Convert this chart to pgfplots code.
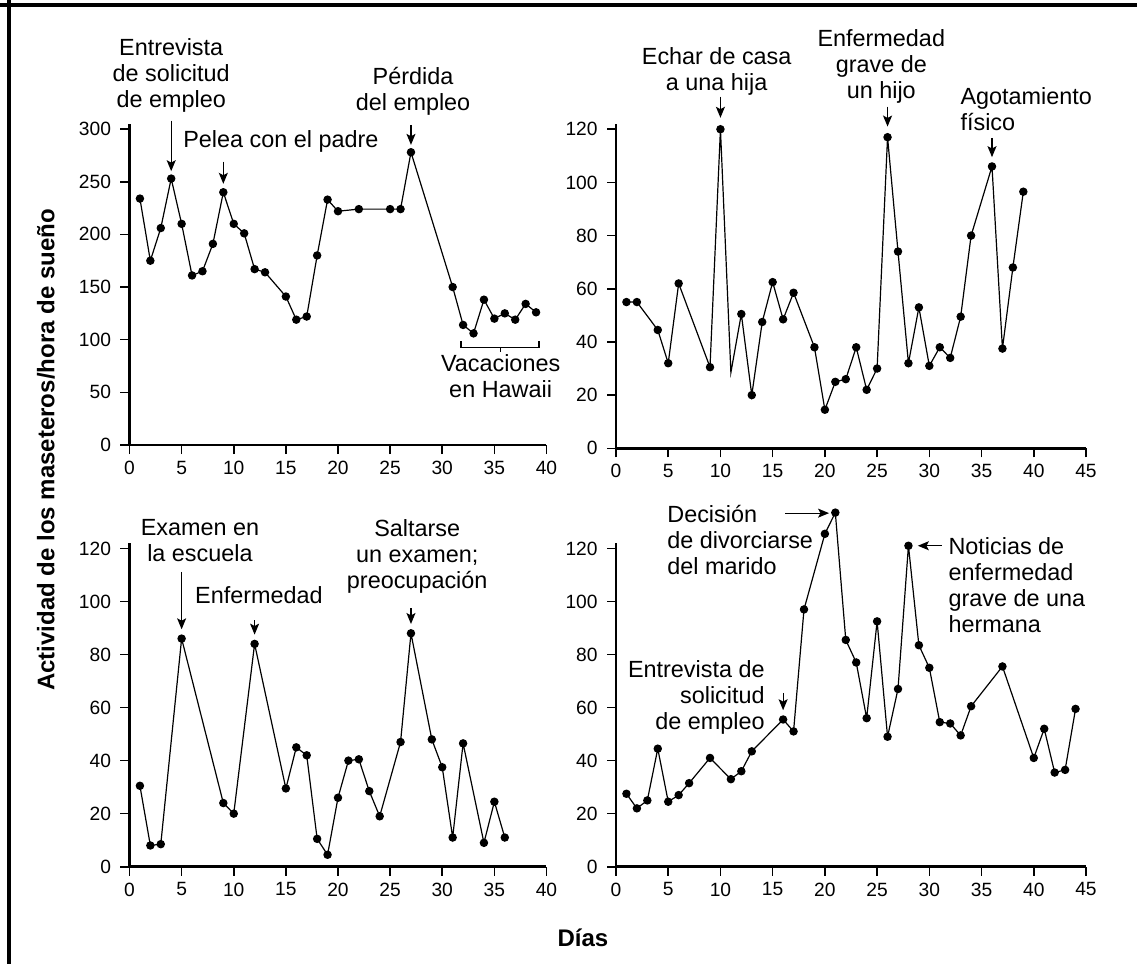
\documentclass[border=0pt]{standalone}
\usepackage{pgfplots}
\pgfplotsset{compat=1.18}
\usepackage{fontspec}
\setmainfont{Liberation Sans}
\usetikzlibrary{arrows.meta}

\pgfplotsset{
  panel/.style={
    scale only axis, anchor=south west, clip=false,
    axis lines=left,
    axis line style={-, line width=1.4pt},
    tick align=outside, major tick length=4.5pt,
    every tick/.style={black, line width=0.8pt},
    tick label style={font=\fontsize{9.6}{11}\selectfont},
    yticklabel style={xshift=-1.2pt},
    /pgf/number format/assume math mode=true,
    ymin=0, xmin=0,
  },
  ser/.style={black, line width=0.6pt, mark=*, mark size=1.8pt, mark options={solid, fill=black}},
}
\tikzset{
  ann/.style={font=\fontsize{11.7}{13}\selectfont, inner sep=0pt},
  arr/.style={-{Stealth[length=5.5pt,width=4.5pt,inset=1.2pt]}, line width=0.6pt},
}

\begin{document}
\begin{tikzpicture}
\path[use as bounding box] (0,0) rectangle (568.5pt,-482pt);
\draw[line width=1.8pt] (0,-2.5pt) -- (568.5pt,-2.5pt);
\draw[line width=1.8pt] (4.5pt,0) -- (4.5pt,-482pt);

% ---------- top left
\begin{axis}[panel, at={(64.75pt,-222.5pt)}, width=208.5pt, height=160.6pt,
  xmax=40, ymax=305, xtick={0,5,...,40}, ytick={0,50,...,300}]
\addplot[ser] coordinates {(1,234)(2,175)(3,206)(4,253)(5,210)(6,161)(7,165)(8,191)(9,240)(10,210)(11,201)(12,167)(13,164)(15,141)(16,119)(17,122)(18,180)(19,233)(20,222)(22,224)(25,224)(26,224)(27,278)(31,150)(32,114)(33,106)(34,138)(35,120)(36,125)(37,119)(38,134)(39,126)};
\node[ann, align=center] at (axis cs:4,351) {Entrevista\\de solicitud\\de empleo};
\draw[arr] (axis cs:4,308) -- (axis cs:4,260);
\node[ann, anchor=west] at (axis cs:5.13,288) {Pelea con el padre};
\draw[arr] (axis cs:9,269) -- (axis cs:9,248);
\node[ann, align=center] at (axis cs:27.2,335.6) {Pérdida\\del empleo};
\draw[arr] (axis cs:27,304) -- (axis cs:27,285);
\draw[line width=0.8pt] (axis cs:31.8,98.3) -- (axis cs:31.8,92.5) -- (axis cs:39.3,92.5) -- (axis cs:39.3,98.3);
\draw[line width=0.8pt] (axis cs:35.6,92.5) -- (axis cs:35.6,88);
\node[ann, align=center] at (axis cs:35.6,65) {Vacaciones\\en Hawaii};
\end{axis}

% ---------- top right
\begin{axis}[panel, at={(308pt,-224.15pt)}, width=235pt, height=162.2pt,
  xmax=45, ymax=122, xtick={0,5,...,45}, ytick={0,20,...,120}]
\addplot[black, line width=0.6pt, mark=none] coordinates {(1,55)(2,55)(4,44.5)(5,32)(6,62)(9,30.5)(10,120)(11,28.5)(12,50.5)(13,20)(14,47.5)(15,62.5)(16,48.5)(17,58.5)(19,38)(20,14.5)(21,25)(22,26)(23,38)(24,22)(25,30)(26,117)(27,74)(28,32)(29,53)(30,31)(31,38)(32,34)(33,49.5)(34,80)(36,106)(37,37.5)(38,68)(39,96.5)};
\addplot[ser, only marks] coordinates {(1,55)(2,55)(4,44.5)(5,32)(6,62)(9,30.5)(10,120)(12,50.5)(13,20)(14,47.5)(15,62.5)(16,48.5)(17,58.5)(19,38)(20,14.5)(21,25)(22,26)(23,38)(24,22)(25,30)(26,117)(27,74)(28,32)(29,53)(30,31)(31,38)(32,34)(33,49.5)(34,80)(36,106)(37,37.5)(38,68)(39,96.5)};
\node[ann, align=center] at (axis cs:9.64,141.8) {Echar de casa\\a una hija};
\draw[arr] (axis cs:10,132.3) -- (axis cs:10,124.3);
\node[ann, align=center] at (axis cs:25.4,143.5) {Enfermedad\\grave de\\un hijo};
\draw[arr] (axis cs:26,128.5) -- (axis cs:26,121);
\node[ann, anchor=west, align=left] at (axis cs:32.95,127.5) {Agotamiento\\físico};
\draw[arr] (axis cs:36,116.7) -- (axis cs:36,109.5);
\end{axis}

% ---------- bottom left
\begin{axis}[panel, at={(64.75pt,-433.35pt)}, width=208.5pt, height=161.8pt,
  xmax=40, ymax=122, xtick={0,5,...,40}, ytick={0,20,...,120}]
\addplot[ser] coordinates {(1,30.5)(2,8)(3,8.5)(5,86)(9,24)(10,20)(12,84)(15,29.5)(16,45)(17,42)(18,10.5)(19,4.5)(20,26)(21,40)(22,40.5)(23,28.5)(24,19)(26,47)(27,88)(29,48)(30,37.5)(31,11)(32,46.5)(34,9)(35,24.5)(36,11)};
\node[ann, align=center] at (axis cs:6.76,123) {Examen en\\la escuela};
\draw[arr] (axis cs:5,111.2) -- (axis cs:5,89.5);
\node[ann] at (axis cs:12.42,102.4) {Enfermedad};
\draw[arr] (axis cs:12,93) -- (axis cs:12,87.5);
\node[ann, align=center] at (axis cs:27.6,117.1) {Saltarse\\un examen;\\preocupación};
\draw[arr] (axis cs:27,97.4) -- (axis cs:27,91.5);
\end{axis}

% ---------- bottom right
\begin{axis}[panel, at={(308pt,-433.35pt)}, width=235pt, height=161.8pt,
  xmax=45, ymax=122, xtick={0,5,...,45}, ytick={0,20,...,120}]
\addplot[ser] coordinates {(1,27.5)(2,22)(3,25)(4,44.5)(5,24.5)(6,27)(7,31.5)(9,41)(11,33)(12,36)(13,43.5)(16,55.5)(17,51)(18,97)(20,125.5)(21,133.5)(22,85.5)(23,77)(24,56)(25,92.5)(26,49)(27,67)(28,121)(29,83.5)(30,75)(31,54.5)(32,54)(33,49.5)(34,60.5)(37,75.5)(40,41)(41,52)(42,35.5)(43,36.5)(44,59.5)};
\node[ann, anchor=west, align=left] at (axis cs:4.88,123.1) {Decisión\\de divorciarse\\del marido};
\draw[arr] (axis cs:16.2,133.3) -- (axis cs:20.4,133.3);
\node[ann, anchor=east, align=right] at (axis cs:14.27,64) {Entrevista de\\solicitud\\de empleo};
\draw[arr] (axis cs:16,65.5) -- (axis cs:16,59);
\node[ann, anchor=west, align=left] at (axis cs:31.8,106) {Noticias de\\enfermedad\\grave de una\\hermana};
\draw[arr] (axis cs:31.2,121) -- (axis cs:28.9,121);
\end{axis}

\node[rotate=90, font=\bfseries\fontsize{12}{14}\selectfont] at (23pt,-225pt) {Actividad de los maseteros/hora de sueño};
\node[font=\bfseries\fontsize{12}{14}\selectfont] at (291.5pt,-469pt) {Días};
\end{tikzpicture}
\end{document}
